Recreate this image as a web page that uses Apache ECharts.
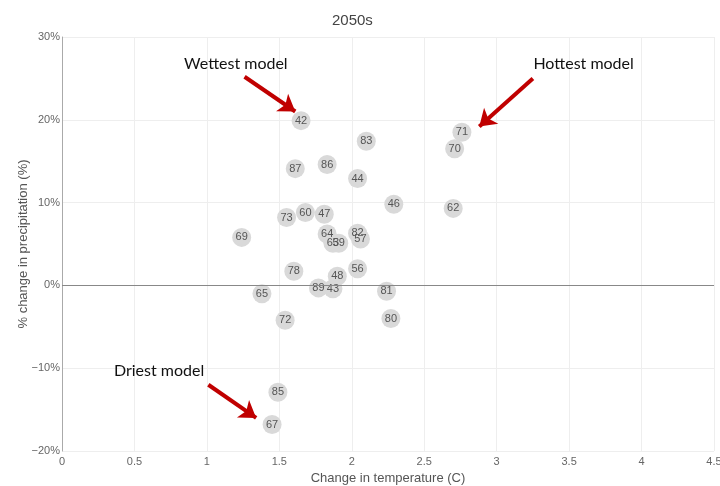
<!DOCTYPE html>
<html><head><meta charset="utf-8">
<script src="https://cdn.jsdelivr.net/npm/echarts@6/dist/echarts.min.js"></script>
<style>html,body{margin:0;padding:0;background:#fff}#c{width:720px;height:486px}</style>
</head><body><div id="c"></div>
<script>
const models = ['42','83','71','70','87','86','44','46','62','73','60','47','69','64','63','59','82','57','78','56','48','89','43','65','81','72','80','85','67'];
const tempChange = [1.65,2.10,2.76,2.71,1.61,1.83,2.04,2.29,2.70,1.55,1.68,1.81,1.24,1.83,1.87,1.91,2.04,2.06,1.60,2.04,1.90,1.77,1.87,1.38,2.24,1.54,2.27,1.49,1.45];
const precipChange = [19.9,17.4,18.5,16.5,14.1,14.6,12.9,9.8,9.3,8.2,8.8,8.6,5.8,6.2,5.1,5.1,6.3,5.6,1.7,2.0,1.1,-0.3,-0.4,-1.0,-0.7,-4.2,-4.0,-12.9,-16.8];
const xTicks = {min: 0, max: 4.5, interval: 0.5};
const yTicks = {min: -20, max: 30, interval: 10};
const annotations = [
  {text: 'Wettest model', at: [1.20, 26.8], from: [1.26, 25.2], to: [1.61, 21.0]},
  {text: 'Hottest model', at: [3.60, 26.8], from: [3.25, 25.0], to: [2.88, 19.2]},
  {text: 'Driest model', at: [0.67, -10.3], from: [1.01, -12.0], to: [1.34, -16.0]}
];

const points = models.map((m, i) => [tempChange[i], precipChange[i], m]);
const FONT = '"Liberation Sans", Arial, sans-serif';
const chart = echarts.init(document.getElementById('c'));
chart.setOption({
  animation: false,
  title: {text: '2050s', left: 327, top: 8, textStyle: {fontFamily: FONT, fontSize: 15, fontWeight: 'normal', color: '#444'}},
  grid: {left: 62, right: 6, top: 37, bottom: 35, containLabel: false, outerBoundsMode: 'none'},
  xAxis: {
    type: 'value', min: xTicks.min, max: xTicks.max, interval: xTicks.interval,
    name: 'Change in temperature (C)', nameLocation: 'middle', nameGap: 21,
    nameTextStyle: {fontFamily: FONT, fontSize: 13, color: '#555'},
    axisLine: {show: false}, axisTick: {show: false},
    axisLabel: {fontFamily: FONT, fontSize: 11, color: '#666', margin: 5, showMaxLabel: true, hideOverlap: false},
    splitLine: {lineStyle: {color: '#eeeeee'}}
  },
  yAxis: {
    type: 'value', min: yTicks.min, max: yTicks.max, interval: yTicks.interval,
    name: '% change in precipitation (%)', nameLocation: 'middle', nameGap: 32, nameMoveOverlap: false,
    nameTextStyle: {fontFamily: FONT, fontSize: 13, color: '#555'},
    axisLine: {show: true, lineStyle: {color: '#aaa'}}, axisTick: {show: false},
    axisLabel: {fontFamily: FONT, fontSize: 11, color: '#666', margin: 2,
      formatter: v => (v < 0 ? '\u2212' + Math.abs(v) : v) + '%'},
    splitLine: {lineStyle: {color: '#eeeeee'}}
  },
  series: [
    {
      type: 'scatter', data: points, symbolSize: 19, z: 3,
      itemStyle: {color: '#d9d9d9', opacity: 1},
      label: {show: true, position: 'inside', formatter: p => p.data[2], fontFamily: FONT, fontSize: 11, color: '#555'},
      markLine: {
        silent: true, symbol: 'none', animation: false,
        lineStyle: {color: '#888', type: 'solid', width: 1},
        label: {show: false},
        data: [{yAxis: 0}]
      }
    },
    {
      type: 'scatter', data: [], z: 5,
      markLine: {
        silent: true, symbol: ['none', 'arrow'], symbolSize: [16, 16], animation: false,
        lineStyle: {color: '#c00000', type: 'solid', width: 4, opacity: 1},
        label: {show: false},
        data: annotations.map(a => [{coord: a.from}, {coord: a.to}])
      },
      markPoint: {
        silent: true, symbol: 'circle', symbolSize: 0, animation: false,
        label: {show: true, position: 'inside', fontFamily: 'Lato, "Open Sans", sans-serif', fontSize: 16, color: '#111',
          formatter: p => p.name},
        data: annotations.map(a => ({name: a.text, coord: a.at}))
      }
    }
  ]
});
</script></body></html>
